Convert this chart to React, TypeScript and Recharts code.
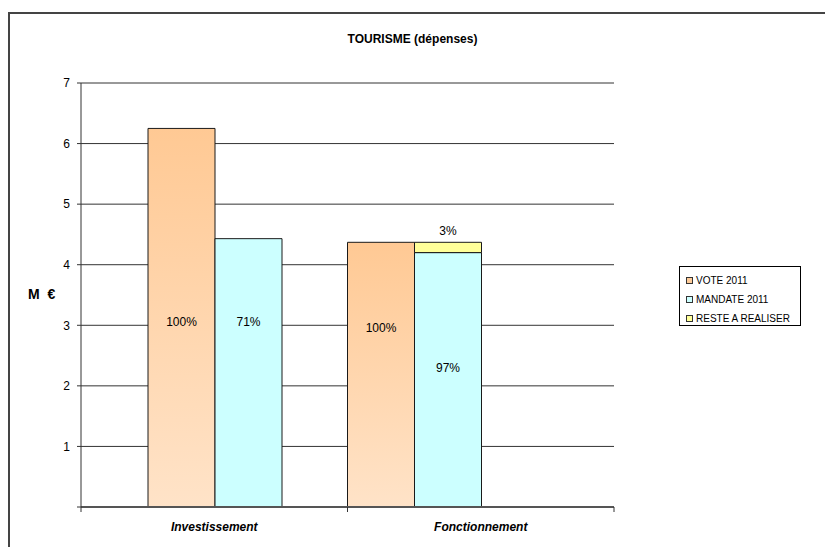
import { Bar, BarChart, CartesianGrid, Cell, LabelList, Legend, XAxis, YAxis } from 'recharts';

const categories = ['Investissement', 'Fonctionnement'];
const seriesNames = ['VOTE 2011', 'MANDATE 2011', 'RESTE A REALISER'];
const vote2011 = [6.25, 4.37];
const mandate2011 = [4.43, 4.2];
const resteARealiser = [0, 0.17];
const voteLabels = ['100%', '100%'];
const mandateLabels = ['71%', '97%'];
const resteLabels = ['', '3%'];
const yTicks = [0, 1, 2, 3, 4, 5, 6, 7];

// layout: every category is cut into 4 slots, the vote/mandate pair starts at pairStart
const SLOTS = 4;
const pairStart = [1, 0];
// label centre, in px below the bar top
const voteLabelTop = [194, 86];
const mandateLabelTop = [83, 115];

const FONT = 'Arial, "Liberation Sans", sans-serif';
const VOTE_FILL = 'url(#voteFill)';
const MANDATE_FILL = '#CCFFFF';
const RESTE_FILL = '#FFFF99';
const legendColors = ['#FFCC99', MANDATE_FILL, RESTE_FILL];

type Row = Record<string, string | number | null>;

const rows: Row[] = categories.map((name, c) => {
    const row: Row = { name };
    for (let s = 0; s < SLOTS; s++) {
        row[`base${s}`] = null;
        row[`top${s}`] = null;
        row[`kind${s}`] = '';
    }
    const v = pairStart[c];
    const m = v + 1;
    row[`base${v}`] = vote2011[c];
    row[`kind${v}`] = 'vote';
    row[`base${m}`] = mandate2011[c];
    row[`kind${m}`] = 'mandate';
    row[`top${m}`] = resteARealiser[c] > 0 ? resteARealiser[c] : null;
    return row;
});

const slots = Array.from({ length: SLOTS }, (_, s) => s);

function CategoryTick(props: any) {
    const { x, y, payload } = props;
    const half = payload && typeof payload.offset === 'number' && payload.offset > 0 ? payload.offset : 133;
    return (
        <g>
            <line x1={x - half} x2={x - half} y1={y} y2={y + 5} stroke="#333" />
            <line x1={x + half} x2={x + half} y1={y} y2={y + 5} stroke="#333" />
            <text
                x={x}
                y={y + 24}
                textAnchor="middle"
                fontFamily={FONT}
                fontSize={12}
                fontWeight="bold"
                fontStyle="italic"
                fill="#000"
            >
                {payload.value}
            </text>
        </g>
    );
}

const baseLabel = (slot: number) => (props: any) => {
    const { x, y, width, value } = props;
    const c = categories.indexOf(String(value));
    if (c < 0) return null;
    let text = '';
    let top = 0;
    if (slot === pairStart[c]) {
        text = voteLabels[c];
        top = voteLabelTop[c];
    } else if (slot === pairStart[c] + 1) {
        text = mandateLabels[c];
        top = mandateLabelTop[c];
    }
    if (!text) return null;
    return (
        <text x={x + width / 2} y={y + top + 4} textAnchor="middle" fontFamily={FONT} fontSize={12} fill="#000">
            {text}
        </text>
    );
};

const resteLabel = (props: any) => {
    const { x, y, width, value } = props;
    const c = categories.indexOf(String(value));
    if (c < 0 || !resteLabels[c]) return null;
    return (
        <text x={x + width / 2} y={y - 7} textAnchor="middle" fontFamily={FONT} fontSize={12} fill="#000">
            {resteLabels[c]}
        </text>
    );
};

function LegendBox() {
    return (
        <div
            style={{
                width: 122,
                height: 60,
                border: '1px solid #000',
                background: '#fff',
                fontFamily: FONT,
                fontSize: 10,
                color: '#000',
                paddingTop: 4,
                boxSizing: 'border-box',
            }}
        >
            {seriesNames.map((name, i) => (
                <div key={name} style={{ display: 'flex', alignItems: 'center', height: 19, paddingLeft: 6 }}>
                    <span
                        style={{
                            width: 5,
                            height: 5,
                            border: '1px solid #333',
                            background: legendColors[i],
                            marginRight: 3,
                            display: 'inline-block',
                        }}
                    />
                    <span style={{ whiteSpace: 'nowrap' }}>{name}</span>
                </div>
            ))}
        </div>
    );
}

export default function App() {
    return (
        <div
            style={{
                position: 'fixed',
                left: 0,
                top: 0,
                width: 825,
                height: 547,
                overflow: 'hidden',
                background: '#fff',
            }}
        >
            <div
                style={{
                    position: 'absolute',
                    left: 8,
                    top: 12,
                    width: 840,
                    height: 600,
                    border: '2px solid #444',
                    boxSizing: 'border-box',
                }}
            />
            <div
                style={{
                    position: 'absolute',
                    left: 0,
                    top: 32,
                    width: 825,
                    textAlign: 'center',
                    fontFamily: FONT,
                    fontSize: 12,
                    fontWeight: 'bold',
                    lineHeight: '14px',
                }}
            >
                TOURISME (dépenses)
            </div>
            <div
                style={{
                    position: 'absolute',
                    left: 28,
                    top: 286,
                    fontFamily: FONT,
                    fontSize: 14,
                    fontWeight: 'bold',
                    lineHeight: '16px',
                    whiteSpace: 'pre',
                }}
            >
                {'M  €'}
            </div>
            <div style={{ position: 'absolute', left: 0, top: 0 }}>
                <BarChart
                    width={825}
                    height={547}
                    data={rows}
                    margin={{ top: 83, right: 211, left: 0, bottom: 0 }}
                    barCategoryGap={0}
                    barGap={0}
                >
                    <defs>
                        <linearGradient id="voteFill" x1="0" y1="0" x2="0" y2="1">
                            <stop offset="0%" stopColor="#FFC994" />
                            <stop offset="100%" stopColor="#FFE3C8" />
                        </linearGradient>
                    </defs>
                    <CartesianGrid vertical={false} stroke="#333" />
                    <XAxis
                        dataKey="name"
                        height={40}
                        tickSize={0}
                        tickMargin={0}
                        tickLine={false}
                        axisLine={{ stroke: '#555', strokeWidth: 2 }}
                        tick={<CategoryTick />}
                        interval={0}
                    />
                    <YAxis
                        domain={[0, 7]}
                        ticks={yTicks}
                        interval={0}
                        width={81}
                        tickSize={4}
                        tickMargin={7}
                        tickFormatter={(v: number) => (v === 0 ? '' : String(v))}
                        axisLine={{ stroke: '#333' }}
                        tickLine={{ stroke: '#333' }}
                        tick={{ fontSize: 12, fill: '#000', fontFamily: FONT }}
                    />
                    <YAxis
                        yAxisId="frame"
                        orientation="right"
                        width={0}
                        domain={[0, 7]}
                        tick={false}
                        tickLine={false}
                        axisLine={{ stroke: '#888', strokeWidth: 2 }}
                    />
                    <Legend
                        layout="vertical"
                        align="center"
                        verticalAlign="middle"
                        content={() => <LegendBox />}
                        wrapperStyle={{ left: 679, top: 266, width: 122, height: 60 }}
                    />
                    {slots.flatMap((s) => [
                        <Bar
                            key={`base${s}`}
                            dataKey={`base${s}`}
                            stackId={`slot${s}`}
                            stroke="#1a1a1a"
                            strokeWidth={1}
                            isAnimationActive={false}
                            legendType="none"
                        >
                            {rows.map((row, c) => (
                                <Cell
                                    key={`cell${s}-${c}`}
                                    fill={row[`kind${s}`] === 'vote' ? VOTE_FILL : MANDATE_FILL}
                                />
                            ))}
                            <LabelList dataKey="name" content={baseLabel(s)} />
                        </Bar>,
                        <Bar
                            key={`top${s}`}
                            dataKey={`top${s}`}
                            stackId={`slot${s}`}
                            fill={RESTE_FILL}
                            stroke="#1a1a1a"
                            strokeWidth={1}
                            isAnimationActive={false}
                            legendType="none"
                        >
                            <LabelList dataKey="name" content={resteLabel} />
                        </Bar>,
                    ])}
                </BarChart>
            </div>
        </div>
    );
}
